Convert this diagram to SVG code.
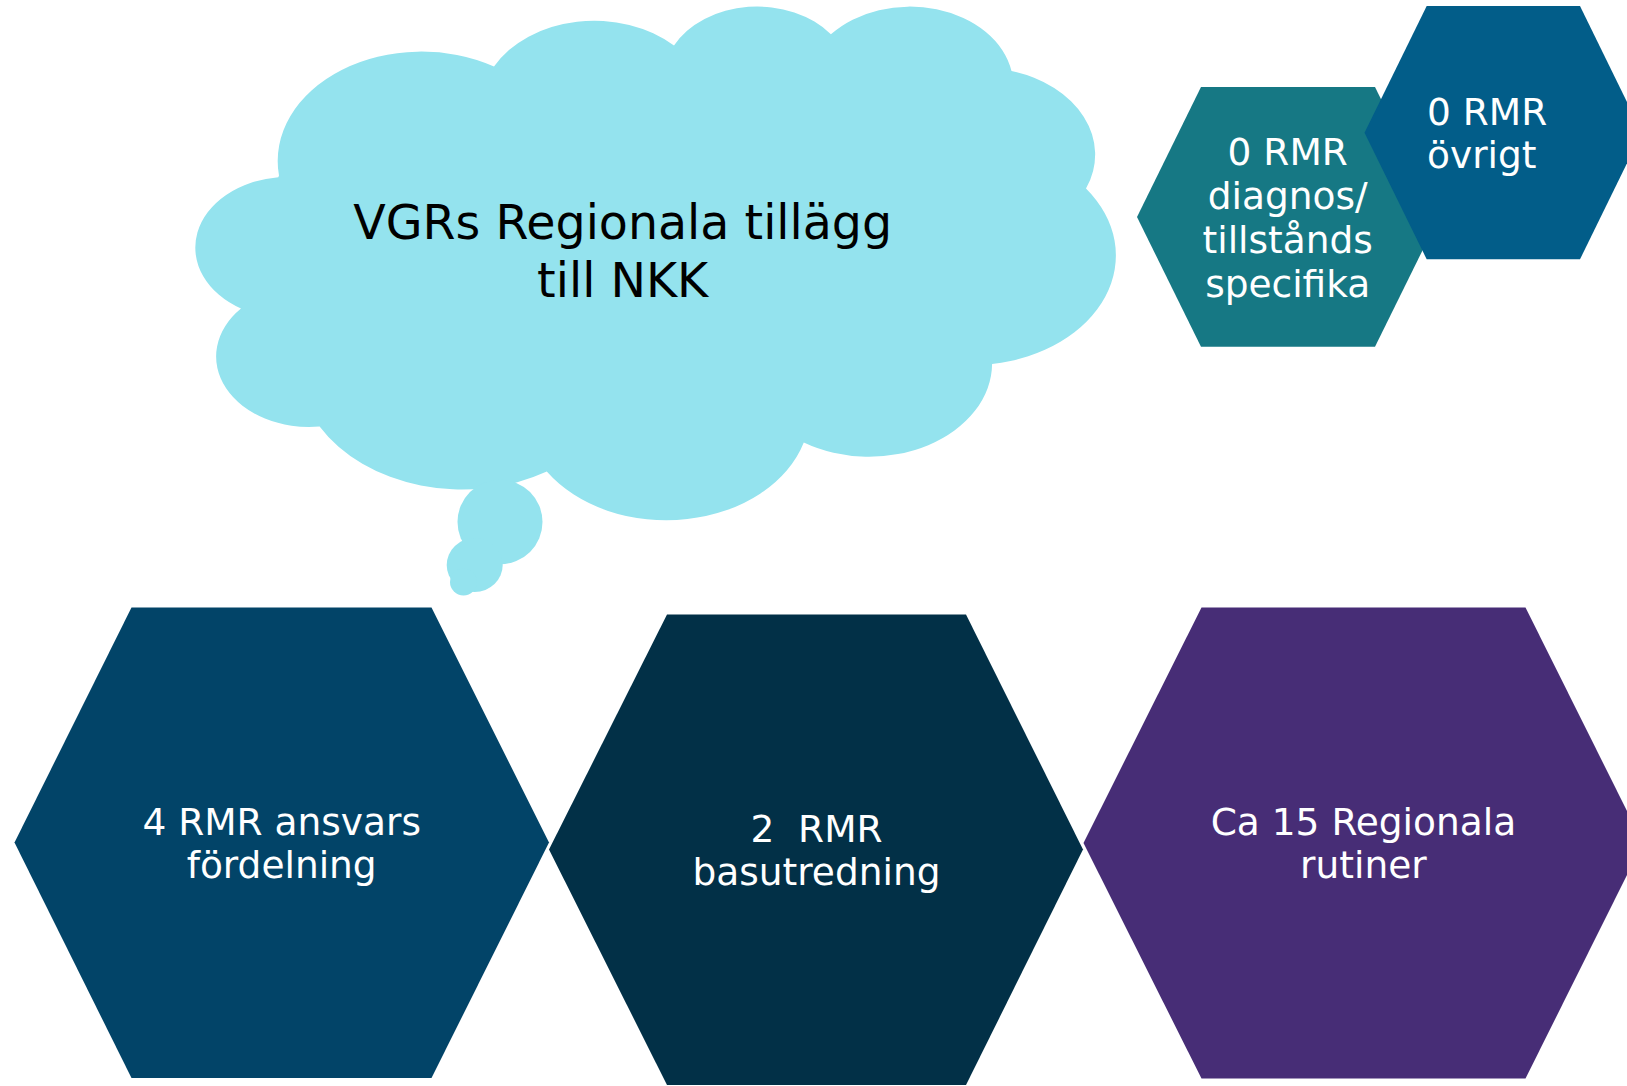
<svg xmlns="http://www.w3.org/2000/svg" width="1627" height="1086" viewBox="0 0 1627 1086">
<style>
  .lbl { font-family: "DejaVu Sans", Verdana, "Liberation Sans", sans-serif; fill: #ffffff; text-anchor: middle; }
  .hexb { font-size: 37.5px; }
  .hext { font-size: 37.5px; }
  .cloudtxt { font-family: "DejaVu Sans", Verdana, "Liberation Sans", sans-serif; font-size: 47.5px; fill: #000000; text-anchor: middle; }
  .cloud { fill: #94E3EE; }
</style>
<rect x="0" y="0" width="1627" height="1086" fill="#ffffff"/>

<g id="cloud">
  <path class="cloud" d="M 279 175.6
    A 143.7 109.3 0 0 1 494 66.6
    A 113.5 86.4 0 0 1 674 45.6
    A 92.9 70.7 0 0 1 830.9 34.3
    A 103.4 78.4 0 0 1 1011.5 71.1
    A 113.5 86.5 0 0 1 1086 188.6
    A 144.2 109.6 0 0 1 992.1 363.9
    A 123.1 93.5 0 0 1 803.8 442.5
    A 143.7 109.6 0 0 1 546.8 471.6
    A 164.3 125.3 0 0 1 319.6 426.5
    A 92.8 70.4 0 0 1 241 308.6
    A 92.5 70.7 0 0 1 278.3 177.3 Z"/>
  <ellipse class="cloud" cx="500" cy="522" rx="42.5" ry="42.3"/>
  <ellipse class="cloud" cx="474.7" cy="565" rx="28" ry="27"/>
  <ellipse class="cloud" cx="463.5" cy="582" rx="13.5" ry="13.5"/>
  <text class="cloudtxt" x="622.7" y="239.3">VGRs Regionala tillägg</text>
  <text class="cloudtxt" x="622.7" y="296.7">till NKK</text>
</g>

<g id="hex-diagnos">
  <polygon fill="#167884" points="1137,217 1201,87 1375,87 1439,217 1375,346.7 1201,346.7"/>
  <text class="lbl hext" x="1287.7" y="165">0 RMR</text>
  <text class="lbl hext" x="1287.7" y="209">diagnos/</text>
  <text class="lbl hext" x="1287.7" y="253">tillstånds</text>
  <text class="lbl hext" x="1287.7" y="297">specifika</text>
</g>

<g id="hex-ovrigt">
  <polygon fill="#025D89" points="1364.5,132.7 1426.7,6 1580,6 1642,132.7 1580,259.3 1426.7,259.3"/>
  <text class="lbl hext" x="1427" y="125" style="text-anchor:start">0 RMR</text>
  <text class="lbl hext" x="1427" y="168.3" style="text-anchor:start">övrigt</text>
</g>

<g id="hex-ansvar">
  <polygon fill="#024468" points="14.5,842.5 131.5,607.5 431.5,607.5 549,842.5 431.5,1078 131.5,1078"/>
  <text class="lbl hexb" x="281.7" y="835">4 RMR ansvars</text>
  <text class="lbl hexb" x="281.7" y="878">fördelning</text>
</g>

<g id="hex-basutredning">
  <polygon fill="#023047" points="549,849.5 667,614.5 966,614.5 1083,849.5 966,1085 667,1085"/>
  <text class="lbl hexb" x="816.5" y="842.3" xml:space="preserve">2  RMR</text>
  <text class="lbl hexb" x="816.5" y="885">basutredning</text>
</g>

<g id="hex-rutiner">
  <polygon fill="#472D76" points="1083.5,843 1201.5,607.5 1525.5,607.5 1643,843 1525.5,1078.5 1201.5,1078.5"/>
  <text class="lbl hexb" x="1363.4" y="835">Ca 15 Regionala</text>
  <text class="lbl hexb" x="1363.4" y="878">rutiner</text>
</g>

<g id="connectors"></g>
</svg>
